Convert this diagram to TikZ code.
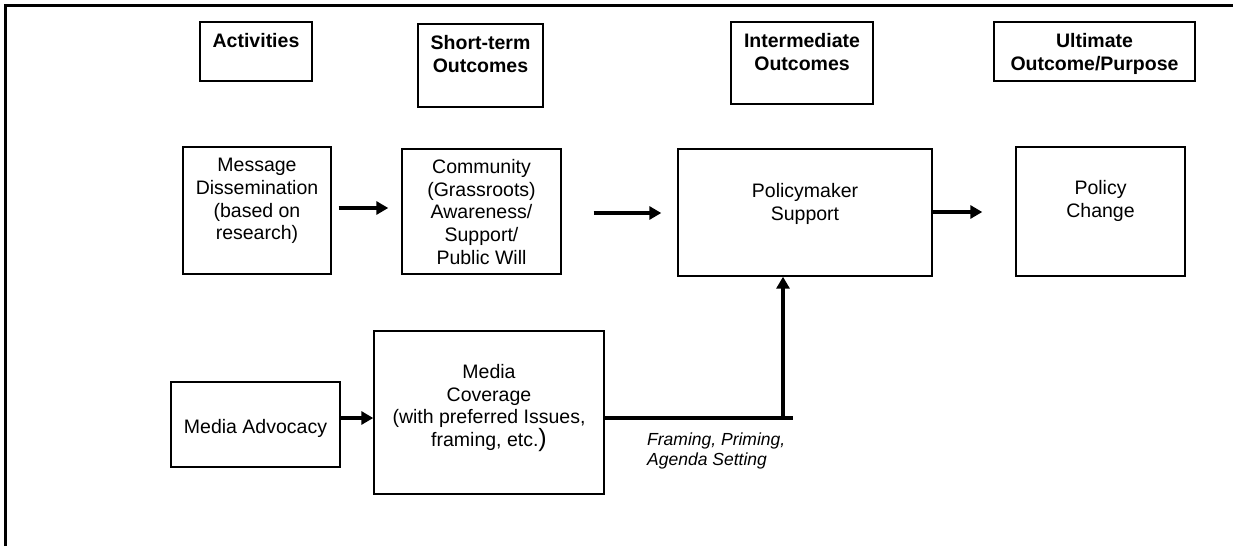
\documentclass[tikz,border=0pt]{standalone}
\usepackage{fontspec}
\setmainfont{Liberation Sans}
\usetikzlibrary{arrows.meta,calc}
\begin{document}
\begin{tikzpicture}[x=1pt,y=-1pt,
  box/.style={draw=black,line width=1.4pt,inner sep=0pt,fill=none},
  txt/.style={inner sep=0pt,align=center,font=\fontsize{19.5}{22.6}\selectfont},
  hdr/.style={inner sep=0pt,align=center,font=\fontsize{19.5}{22.6}\selectfont\bfseries},
  lbl/.style={inner sep=0pt,align=left,font=\fontsize{17.5}{20}\selectfont\itshape},
  arr/.style={line width=4pt,-{Triangle[length=12pt,width=13pt]}},
  thickline/.style={line width=4pt},
  frame/.style={line width=3pt}]
\useasboundingbox (0,0) rectangle (1233,546);
% frame (top and left only)
\draw[frame] (5,546) -- (5,5) -- (1233,5);
% header boxes
\node[box,minimum width=112pt,minimum height=59pt] (act) at (256,51.5) {};
\node[box,minimum width=125pt,minimum height=83pt] (st) at (480.5,65.5) {};
\node[box,minimum width=142pt,minimum height=82pt] (im) at (802,63) {};
\node[box,minimum width=201pt,minimum height=59pt] (ul) at (1094.5,51.5) {};
\node[hdr,anchor=north] (actt) at ([yshift=-12pt]act.north) {Activities};
\node[hdr,anchor=north] (stt) at ([yshift=-12pt]st.north) {Short-term\\Outcomes};
\node[hdr,anchor=north] (imt) at ([yshift=-12pt]im.north) {Intermediate\\Outcomes};
\node[hdr,anchor=north] (ult) at ([yshift=-12pt]ul.north) {Ultimate\\Outcome/Purpose};
% main boxes
\node[box,minimum width=148pt,minimum height=127pt] (msg) at (257,210.5) {};
\node[box,minimum width=159pt,minimum height=125pt] (comm) at (481.5,211.5) {};
\node[box,minimum width=254pt,minimum height=127pt] (pol) at (805,212.5) {};
\node[box,minimum width=169pt,minimum height=129pt] (pc) at (1100.5,211.5) {};
\node[box,minimum width=169pt,minimum height=85pt] (ma) at (255.5,424.5) {};
\node[box,minimum width=230pt,minimum height=163pt] (mc) at (489,412.5) {};
\node[txt,anchor=north] (msgt) at ([yshift=-12pt]msg.north) {Message\\Dissemination\\(based on\\research)};
\node[txt,anchor=north] (commt) at ([yshift=-11pt]comm.north) {Community\\(Grassroots)\\Awareness/\\Support/\\Public Will};
\node[txt,anchor=north] (polt) at ([yshift=-35pt]pol.north) {Policymaker\\Support};
\node[txt,anchor=north] (pct) at ([yshift=-34pt]pc.north) {Policy\\Change};
\node[txt] (mat) at ([yshift=-3.5pt]ma.center) {Media Advocacy};
\node[txt,anchor=north] (mct) at ([yshift=-34pt]mc.north) {Media\\Coverage\\(with preferred Issues,\\framing, etc.{\fontsize{25}{22.6}\selectfont)}};
% connectors
\draw[arr,shorten <=7pt,shorten >=13pt] ([yshift=2.5pt]msg.east) -- ([yshift=3.5pt]comm.west);
\draw[arr,shorten <=32pt,shorten >=16pt] ([yshift=-1.5pt]comm.east) -- ([yshift=-0.5pt]pol.west);
\draw[arr,shorten >=33pt] ([yshift=0.5pt]pol.east) -- ([yshift=-0.5pt]pc.west);
\draw[arr] ([yshift=6.5pt]ma.east) -- ([yshift=-5.5pt]mc.west);
\coordinate (bend) at (783,418);
\coordinate (lineend) at (793,418);
\draw[thickline] ([yshift=-5.5pt]mc.east) -- (lineend);
\draw[arr] (bend) -- (bend |- pol.south);
\node[lbl,anchor=north west] (fpa) at (647,433) {Framing, Priming,\\Agenda Setting};
\end{tikzpicture}
\end{document}
